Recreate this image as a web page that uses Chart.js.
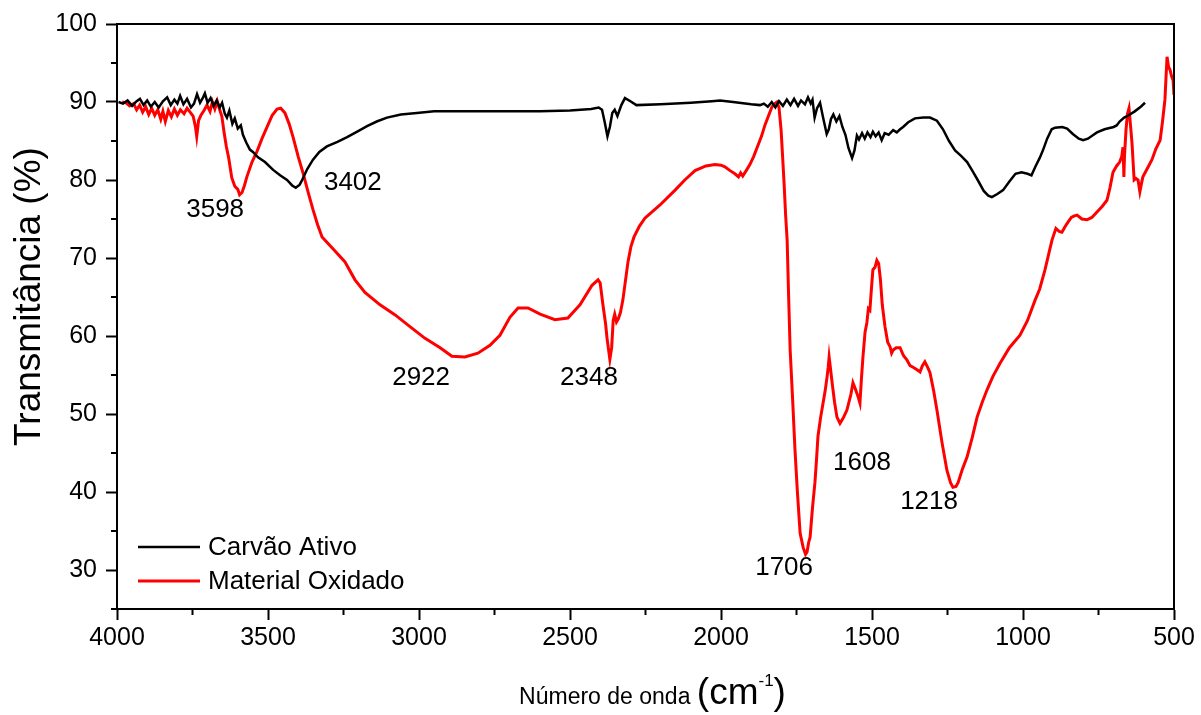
<!DOCTYPE html>
<html>
<head>
    <title>FTIR - Carvão Ativo</title>
    <script src="https://cdn.jsdelivr.net/npm/chart.js"></script>
    <style>
        body { margin: 0; background: #fff; }
    </style>
</head>
<body>
    <canvas id="ftirChart" width="1201" height="715"></canvas>

    <script>
        // Carvão Ativo (preto)
        const waveCarvao = [3995, 3980, 3965, 3950, 3935, 3924, 3912, 3900, 3888, 3875, 3862, 3848, 3834, 3822, 3810, 3800,
            3791, 3780, 3768, 3755, 3745, 3735, 3725, 3715, 3709, 3700, 3690, 3680, 3670, 3660, 3652, 3643, 3636, 3628,
            3618, 3610, 3600, 3590, 3583, 3572, 3560, 3550, 3533, 3510, 3483, 3460, 3437, 3420, 3408, 3395, 3387, 3370,
            3351, 3330, 3305, 3270, 3238, 3200, 3172, 3140, 3106, 3060, 3007, 2950, 2850, 2732, 2600, 2500, 2430, 2405,
            2394, 2385, 2376, 2368, 2360, 2352, 2343, 2330, 2318, 2300, 2280, 2200, 2100, 2030, 2003, 1960, 1900, 1871,
            1858, 1845, 1832, 1820, 1808, 1795, 1782, 1770, 1758, 1745, 1735, 1722, 1712, 1703, 1697, 1690, 1682, 1672,
            1662, 1650, 1643, 1636, 1628, 1618, 1608, 1598, 1588, 1578, 1566, 1558, 1550, 1543, 1533, 1524, 1515, 1505,
            1497, 1488, 1478, 1468, 1458, 1445, 1430, 1418, 1407, 1397, 1380, 1358, 1330, 1308, 1285, 1265, 1245, 1225,
            1205, 1185, 1165, 1150, 1130, 1115, 1103, 1085, 1066, 1045, 1025, 1005, 985, 972, 958, 945, 934, 920, 905,
            894, 870, 854, 835, 815, 801, 785, 770, 755, 730, 700, 690, 680, 665, 650, 630, 610, 596];
        const transCarvao = [90.0, 89.8, 90.2, 89.5, 90.1, 90.4, 89.6, 90.2, 89.4, 90.0, 89.3, 90.1, 90.6, 89.6, 90.3, 89.8,
            90.8, 89.7, 90.4, 89.3, 89.8, 91.0, 89.9, 90.6, 91.1, 89.9, 90.5, 89.5, 90.2, 89.3, 89.9, 88.5, 88.0, 88.9,
            87.2, 87.9, 86.6, 87.0, 85.8, 84.8, 83.9, 83.6, 82.9, 82.3, 81.3, 80.6, 80.0, 79.3, 79.0, 79.4, 80.0, 81.4,
            82.6, 83.6, 84.3, 84.9, 85.5, 86.3, 86.9, 87.5, 88.0, 88.4, 88.6, 88.8, 88.8, 88.8, 88.8, 88.9, 89.1, 89.3,
            89.0, 87.4, 85.6, 86.8, 88.6, 89.0, 88.2, 89.6, 90.5, 90.1, 89.6, 89.7, 89.9, 90.1, 90.2, 90.0, 89.7, 89.6,
            89.8, 89.4, 90.0, 89.3, 90.1, 89.5, 90.3, 89.6, 90.4, 89.5, 90.2, 89.7, 90.6, 89.8, 90.3, 88.0, 89.2, 89.9,
            88.0, 85.9, 86.5, 87.8, 88.4, 87.5, 88.2, 86.8, 85.8, 84.1, 82.8, 83.8, 85.7, 85.2, 86.0, 85.3, 86.1, 85.5,
            86.2, 85.6, 86.1, 85.1, 86.0, 85.8, 86.4, 86.1, 86.5, 86.8, 87.4, 87.9, 88.0, 88.0, 87.6, 86.5, 85.0, 83.8,
            83.1, 82.3, 81.0, 80.0, 78.6, 78.0, 77.8, 78.2, 78.7, 79.8, 80.8, 81.0, 80.8, 80.6, 81.8, 82.8, 83.8, 85.3, 86.5,
            86.7, 86.8, 86.6, 85.9, 85.3, 85.1, 85.3, 85.7, 86.1, 86.5, 86.8, 87.0, 87.5, 88.0, 88.3, 88.8, 89.4, 89.9];

        // Material Oxidado (vermelho)
        const waveOxidado = [3983, 3970, 3958, 3945, 3935, 3925, 3915, 3905, 3895, 3885, 3875, 3865, 3855, 3848, 3840, 3830,
            3820, 3810, 3800, 3790, 3778, 3768, 3758, 3748, 3740, 3736, 3730, 3722, 3712, 3702, 3692, 3684, 3676, 3668,
            3660, 3653, 3645, 3638, 3630, 3620, 3610, 3600, 3594, 3586, 3578, 3570, 3553, 3536, 3520, 3503, 3486, 3470,
            3458, 3444, 3430, 3417, 3400, 3384, 3367, 3351, 3336, 3321, 3288, 3245, 3212, 3179, 3129, 3079, 3030, 2980,
            2930, 2891, 2848, 2805, 2765, 2732, 2699, 2672, 2639, 2599, 2550, 2507, 2467, 2427, 2407, 2400, 2391, 2382,
            2377, 2368, 2362, 2357, 2352, 2346, 2340, 2333, 2325, 2316, 2308, 2298, 2288, 2270, 2252, 2202, 2152, 2120,
            2086, 2050, 2020, 2000, 1987, 1970, 1954, 1942, 1935, 1928, 1915, 1904, 1892, 1881, 1866, 1854, 1842, 1831,
            1822, 1815, 1808, 1801, 1796, 1791, 1786, 1781, 1776, 1771, 1763, 1755, 1747, 1738, 1728, 1720, 1715, 1710,
            1705, 1697, 1689, 1684, 1679, 1670, 1662, 1655, 1649, 1645, 1642, 1638, 1632, 1624, 1616, 1606, 1595, 1583,
            1570, 1563, 1555, 1546, 1540, 1535, 1530, 1523, 1517, 1512, 1507, 1502, 1497, 1490, 1484, 1478, 1472, 1466,
            1457, 1448, 1440, 1435, 1430, 1420, 1407, 1396, 1384, 1374, 1364, 1352, 1341, 1333, 1325, 1316, 1308, 1296,
            1285, 1268, 1252, 1240, 1232, 1222, 1215, 1200, 1185, 1168, 1152, 1135, 1119, 1100, 1076, 1045, 1010, 985,
            960, 945, 927, 915, 904, 891, 880, 871, 861, 851, 840, 830, 821, 805, 788, 772, 755, 738, 722, 712, 702, 690,
            680, 673, 669, 667, 666, 664, 659, 654, 649, 644, 639, 632, 626, 619, 613, 608, 603, 588, 573, 560, 546, 538,
            530, 526, 523, 518, 513, 508, 503, 500];
        const transOxidado = [90.0, 89.9, 89.5, 89.8, 89.0, 89.6, 88.7, 89.4, 88.4, 89.2, 88.3, 89.0, 87.8, 88.8, 87.5, 88.9,
            88.1, 89.1, 88.3, 89.0, 88.5, 89.2, 88.7, 88.2, 86.8, 85.6, 87.6, 88.3, 88.9, 89.6, 88.8, 90.0, 89.1, 90.1,
            89.0, 88.2, 86.0, 84.3, 82.8, 80.3, 79.2, 78.8, 78.1, 78.4, 79.3, 80.4, 82.3, 83.7, 85.3, 86.8, 88.3, 89.1,
            89.2, 88.6, 87.2, 85.5, 83.0, 80.9, 78.4, 76.2, 74.3, 72.7, 71.3, 69.5, 67.2, 65.6, 64.0, 62.7, 61.2, 59.7,
            58.5, 57.4, 57.3, 57.8, 58.8, 60.1, 62.4, 63.6, 63.6, 62.8, 62.1, 62.3, 64.0, 66.5, 67.2, 66.8, 64.0, 61.5,
            59.6, 57.0, 58.5, 62.0, 62.8, 61.8, 62.2, 63.0, 64.6, 67.2, 69.5, 71.5, 72.7, 74.1, 75.1, 76.8, 78.7, 80.0,
            81.2, 81.8, 82.0, 81.9, 81.7, 81.2, 80.8, 80.4, 80.9, 80.5, 81.3, 82.0, 83.0, 84.1, 85.6, 87.1, 88.3, 89.4,
            89.8, 90.0, 89.3, 86.4, 83.0, 79.5, 75.5, 72.3, 65.0, 58.2, 52.0, 45.4, 40.0, 34.7, 32.9, 32.0, 32.3, 33.5,
            34.2, 38.0, 41.2, 44.0, 47.1, 49.6, 51.4, 53.0, 54.7, 56.0, 57.3, 56.0, 54.0, 51.5, 49.6, 48.8, 49.5, 50.5,
            52.5, 54.0, 53.2, 52.2, 51.4, 54.5, 57.3, 60.5, 61.7, 63.5, 63.3, 66.0, 68.5, 68.8, 69.7, 69.3, 67.2, 64.0,
            61.2, 59.2, 58.6, 57.8, 58.2, 58.5, 58.5, 57.5, 56.9, 56.2, 56.0, 55.7, 55.4, 56.2, 56.7, 56.0, 55.3, 53.0,
            50.5, 46.3, 42.8, 41.2, 40.6, 40.7, 41.2, 43.0, 44.5, 47.0, 49.6, 51.5, 53.1, 54.8, 56.5, 58.5, 60.1, 62.0,
            64.6, 66.0, 68.5, 70.5, 72.3, 73.8, 73.4, 73.3, 74.0, 74.6, 75.2, 75.4, 75.5, 75.0, 74.9, 75.2, 75.9, 76.6,
            77.4, 79.0, 81.0, 81.8, 82.3, 83.0, 84.2, 82.0, 80.4, 83.0, 86.4, 88.5, 89.2, 87.0, 84.7, 80.0, 80.2, 80.0,
            78.5, 79.5, 80.4, 81.5, 82.6, 84.0, 85.1, 87.5, 90.3, 93.5, 95.8, 94.5, 94.1, 93.3, 92.8, 90.9];

        // eixos
        const xTicks = [4000, 3500, 3000, 2500, 2000, 1500, 1000, 500];
        const xMinor = [3750, 3250, 2750, 2250, 1750, 1250, 750];
        const yTicks = [30, 40, 50, 60, 70, 80, 90, 100];
        const yMinor = [25, 35, 45, 55, 65, 75, 85, 95];

        // picos marcados (texto, número de onda, transmitância)
        const peakText = ['3598', '3402', '2922', '2348', '1706', '1608', '1218'];
        const peakWave = [3675, 3219, 2993, 2437, 1791, 1533, 1311];
        const peakTrans = [76.2, 79.6, 54.6, 54.6, 30.3, 43.8, 38.7];

        const FONT = "'Liberation Sans', Arial, sans-serif";

        const toPoints = (xs, ys) => xs.map((w, i) => ({ x: w, y: ys[i] }));

        // moldura, ticks menores, rótulos dos picos, legenda e títulos dos eixos
        const extras = {
            id: 'extras',
            afterDraw(chart) {
                const { ctx, chartArea: a, scales: { x, y } } = chart;
                ctx.save();
                ctx.strokeStyle = '#000';
                ctx.lineWidth = 2;
                ctx.strokeRect(a.left, a.top, a.right - a.left, a.bottom - a.top);

                ctx.beginPath();
                xMinor.forEach(v => {
                    const px = x.getPixelForValue(v);
                    ctx.moveTo(px, a.bottom);
                    ctx.lineTo(px, a.bottom + 6);
                });
                yMinor.forEach(v => {
                    const py = y.getPixelForValue(v);
                    ctx.moveTo(a.left, py);
                    ctx.lineTo(a.left - 6, py);
                });
                ctx.stroke();

                ctx.fillStyle = '#000';
                ctx.font = '26px ' + FONT;
                ctx.textAlign = 'center';
                ctx.textBaseline = 'middle';
                peakText.forEach((t, i) => {
                    ctx.fillText(t, x.getPixelForValue(peakWave[i]), y.getPixelForValue(peakTrans[i]));
                });

                // legenda
                ctx.textAlign = 'left';
                chart.data.datasets.forEach((ds, i) => {
                    const ly = a.bottom - 62 + i * 34;
                    ctx.strokeStyle = ds.borderColor;
                    ctx.lineWidth = ds.borderWidth;
                    ctx.beginPath();
                    ctx.moveTo(a.left + 21, ly);
                    ctx.lineTo(a.left + 83, ly);
                    ctx.stroke();
                    ctx.fillText(ds.label, a.left + 91, ly + 1);
                });

                // título eixo y
                ctx.save();
                ctx.translate(30, (a.top + a.bottom) / 2 - 20);
                ctx.rotate(-Math.PI / 2);
                ctx.textAlign = 'center';
                ctx.font = '37px ' + FONT;
                ctx.fillText('Transmitância (%)', 0, 0);
                ctx.restore();

                // título eixo x: Número de onda (cm-1)
                const parts = [
                    { t: 'Número de onda ', f: '23px ' + FONT, dy: 0 },
                    { t: '(cm', f: '37px ' + FONT, dy: 0 },
                    { t: '-1', f: '17px ' + FONT, dy: -18 },
                    { t: ')', f: '37px ' + FONT, dy: 0 }
                ];
                let total = 0;
                parts.forEach(p => { ctx.font = p.f; p.w = ctx.measureText(p.t).width; total += p.w; });
                let cx = (a.left + a.right) / 2 + 7 - total / 2;
                ctx.textBaseline = 'alphabetic';
                parts.forEach(p => {
                    ctx.font = p.f;
                    ctx.fillText(p.t, cx, 704 + p.dy);
                    cx += p.w;
                });
                ctx.restore();
            }
        };

        const ctx = document.getElementById('ftirChart').getContext('2d');
        const ftirChart = new Chart(ctx, {
            type: 'line',
            data: {
                datasets: [{
                    label: 'Carvão Ativo',
                    data: toPoints(waveCarvao, transCarvao),
                    borderColor: '#000000',
                    borderWidth: 2.5,
                    pointRadius: 0,
                    tension: 0
                }, {
                    label: 'Material Oxidado',
                    data: toPoints(waveOxidado, transOxidado),
                    borderColor: '#ff0000',
                    borderWidth: 3,
                    pointRadius: 0,
                    tension: 0
                }]
            },
            options: {
                responsive: false,
                animation: false,
                layout: { padding: { top: 24, right: 27, left: 0, bottom: 0 } },
                plugins: { legend: { display: false }, tooltip: { enabled: false } },
                scales: {
                    x: {
                        type: 'linear',
                        reverse: true,
                        min: 500,
                        max: 4000,
                        afterBuildTicks: s => { s.ticks = xTicks.map(v => ({ value: v })); },
                        afterFit: s => { s.height = 106; },
                        grid: { drawOnChartArea: false, tickLength: 11, tickWidth: 2, tickColor: '#000' },
                        border: { color: '#000', width: 2 },
                        ticks: {
                            color: '#000', padding: 3, maxRotation: 0,
                            font: { family: FONT, size: 25 },
                            callback: v => String(v)
                        }
                    },
                    y: {
                        min: 25,
                        max: 100,
                        afterBuildTicks: s => { s.ticks = yTicks.map(v => ({ value: v })); },
                        afterFit: s => { s.width = 117; },
                        grid: { drawOnChartArea: false, tickLength: 11, tickWidth: 2, tickColor: '#000' },
                        border: { color: '#000', width: 2 },
                        ticks: { color: '#000', padding: 9, font: { family: FONT, size: 25 } }
                    }
                }
            },
            plugins: [extras]
        });
    </script>
</body>
</html>
